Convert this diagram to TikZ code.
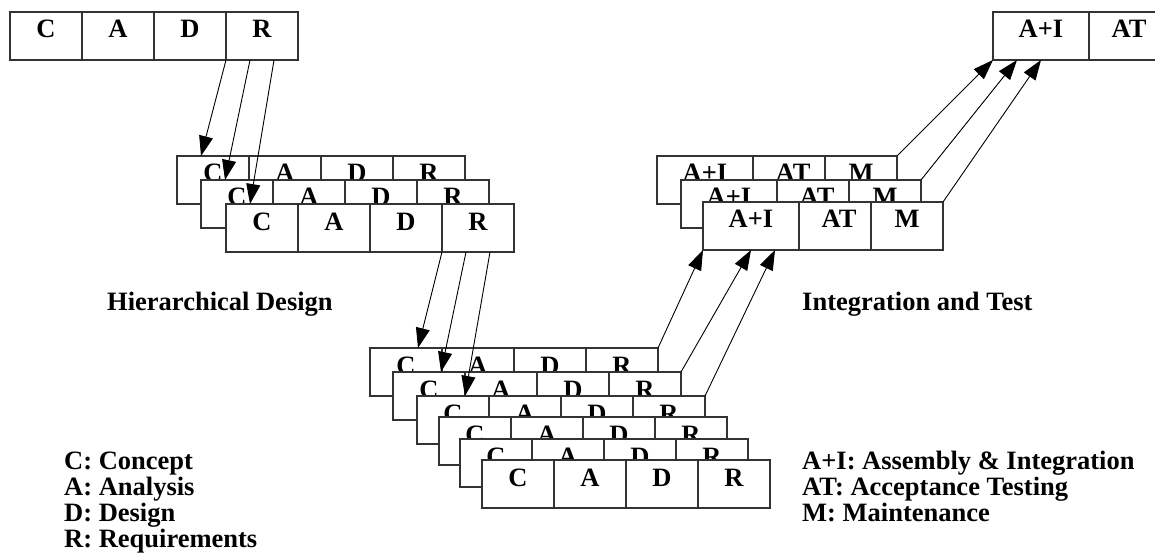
\documentclass[tikz,border=0pt]{standalone}
\usepackage{fontspec}
\setmainfont{Liberation Serif}
\usetikzlibrary{arrows.meta}
\tikzset{
  cell/.style={draw=black!80, line width=1.4pt, fill=white, minimum height=48pt,
    inner sep=0pt, outer sep=0pt, anchor=north west, text height=18pt, text depth=14pt,
    font=\fontsize{26.5}{26.5}\selectfont\bfseries},
  arr/.style={draw=black, line width=0.9pt, -{Triangle[length=20pt,width=14pt]}},
  txt/.style={anchor=base west, inner sep=0pt, font=\fontsize{26.5}{26.5}\selectfont\bfseries},
}
\newcommand\cadrbox[3]{%
  \node[cell,minimum width=72pt] (#1C) at (#2,#3) {C\hspace{6pt}};
  \node[cell,minimum width=72pt] (#1A) at (#1C.north east) {A\hspace{6pt}};
  \node[cell,minimum width=72pt] (#1D) at (#1A.north east) {D\hspace{6pt}};
  \node[cell,minimum width=72pt] (#1R) at (#1D.north east) {R\hspace{6pt}};
}
\newcommand\aibox[3]{%
  \node[cell,minimum width=96pt] (#1I) at (#2,#3) {A+I};
  \node[cell,minimum width=72pt] (#1T) at (#1I.north east) {\hspace{8pt}AT};
  \node[cell,minimum width=72pt] (#1M) at (#1T.north east) {M};
}
\begin{document}
\begin{tikzpicture}[x=1pt,y=-1pt]
\useasboundingbox (0,0) rectangle (1155,553);
% top-left box
\cadrbox{t}{10}{12}
% top-right box
\node[cell,minimum width=96pt] (kI) at (993,12) {A+I};
\node[cell,minimum width=72pt] (kT) at (kI.north east) {\hspace{8pt}AT};
% middle-left stack
\cadrbox{ma}{177}{156}
\cadrbox{mb}{201}{180}
\cadrbox{mc}{226}{204}
% middle-right stack
\aibox{ra}{657}{156}
\aibox{rb}{681}{180}
\aibox{rc}{703}{202}
% bottom stack
\cadrbox{ba}{370}{348}
\cadrbox{bb}{393}{372}
\cadrbox{bc}{417}{396}
\cadrbox{bd}{439}{417}
\cadrbox{be}{460}{439}
\cadrbox{bf}{482}{460}
% arrows: top-left to middle-left
\draw[arr] (tR.south west) -- ([xshift=24pt]maC.north west);
\draw[arr] ([xshift=24pt]tR.south west) -- ([xshift=24pt]mbC.north west);
\draw[arr] ([xshift=48pt]tR.south west) -- ([xshift=24pt]mcC.north west);
% middle-left to bottom
\draw[arr] (mcR.south west) -- ([xshift=48pt]baC.north west);
\draw[arr] ([xshift=24pt]mcR.south west) -- ([xshift=48pt]bbC.north west);
\draw[arr] ([xshift=48pt]mcR.south west) -- ([xshift=48pt]bcC.north west);
% bottom to middle-right
\draw[arr] (baR.north east) -- (rcI.south west);
\draw[arr] (bbR.north east) -- ([xshift=48pt]rcI.south west);
\draw[arr] (bcR.north east) -- ([xshift=72pt]rcI.south west);
% middle-right to top-right
\draw[arr] (raM.north east) -- (kI.south west);
\draw[arr] (rbM.north east) -- ([xshift=24pt]kI.south west);
\draw[arr] (rcM.north east) -- ([xshift=48pt]kI.south west);
% labels
\node[txt] (hd) at (107,310) {Hierarchical Design};
\node[txt] (it) at (802,310) {Integration and Test};
\node[txt] (l1) at (64,469) {C: Concept};
\node[txt] (l2) at (64,495) {A: Analysis};
\node[txt] (l3) at (64,521) {D: Design};
\node[txt] (l4) at (64,547) {R: Requirements};
\node[txt] (r1) at (802,469) {A+I: Assembly \& Integration};
\node[txt] (r2) at (802,495) {AT: Acceptance Testing};
\node[txt] (r3) at (802,521) {M: Maintenance};
\end{tikzpicture}
\end{document}
